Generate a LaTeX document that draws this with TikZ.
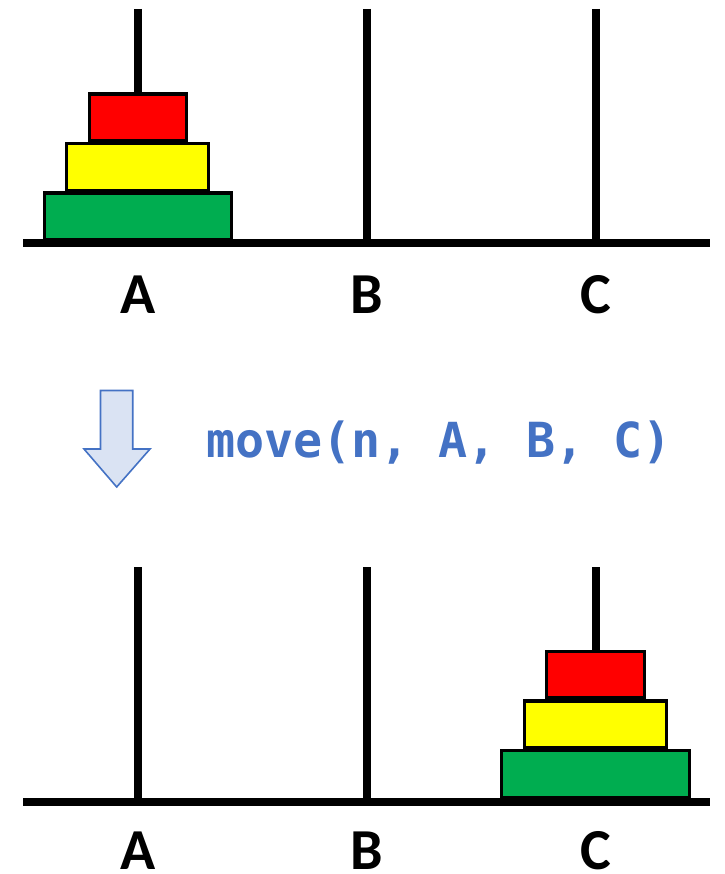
\documentclass[tikz,border=0pt]{standalone}
\usepackage{fontspec}
\newfontfamily\labelfont{Carlito}
\newfontfamily\codefont{DejaVu Sans Mono}
\definecolor{discred}{HTML}{FF0000}
\definecolor{discyellow}{HTML}{FFFF00}
\definecolor{discgreen}{HTML}{00AD50}
\definecolor{arrowfill}{HTML}{DAE3F3}
\definecolor{arrowline}{HTML}{4472C4}
\begin{document}
\begin{tikzpicture}[x=1pt,y=-1pt,
  pole/.style={line width=8pt,black},
  disc/.style={draw=black,line width=3.3pt,rectangle,inner sep=0pt,minimum height=46.5pt},
  peglabel/.style={font=\labelfont\bfseries\fontsize{58}{58}\selectfont,anchor=base,inner sep=0pt},
  blockarrow/.style={draw=arrowline,fill=arrowfill,line width=1.6pt,line join=miter},
  codetext/.style={font=\codefont\bfseries\fontsize{48.3}{48.3}\selectfont,text=arrowline,anchor=base west,inner sep=0pt}]
\useasboundingbox (0,0) rectangle (724,874);
% top row
\coordinate (tbl) at (23,243); \coordinate (tbr) at (710,243);
\coordinate (tAt) at (137.7,9); \coordinate (tAb) at (137.7,243);
\coordinate (tBt) at (366.7,9); \coordinate (tBb) at (366.7,243);
\coordinate (tCt) at (595.7,9); \coordinate (tCb) at (595.7,243);
\draw[pole] (tAt) -- (tAb);
\draw[pole] (tBt) -- (tBb);
\draw[pole] (tCt) -- (tCb);
\node[disc,fill=discred,minimum width=97pt] (tred) at (137.7,117.2) {};
\node[disc,fill=discyellow,minimum width=142pt] (tyellow) at (137.5,167) {};
\node[disc,fill=discgreen,minimum width=187pt] (tgreen) at (137.7,216.2) {};
\draw[pole] (tbl) -- (tbr);
\node[peglabel] (tA) at (137.7,313) {A};
\node[peglabel] (tB) at (366.7,313) {B};
\node[peglabel] (tC) at (595.7,313) {C};
% arrow
\coordinate (a1) at (100.5,390.5); \coordinate (a2) at (132.7,390.5);
\coordinate (a3) at (132.7,449); \coordinate (a4) at (150,449);
\coordinate (a5) at (116.7,487); \coordinate (a6) at (84,449);
\coordinate (a7) at (100.5,449);
\draw[blockarrow] (a1) -- (a2) -- (a3) -- (a4) -- (a5) -- (a6) -- (a7) -- cycle;
\node[codetext] (code) at (206,457) {move(n, A, B, C)};
% bottom row
\coordinate (bbl) at (23,801.5); \coordinate (bbr) at (710,801.5);
\coordinate (bAt) at (137.7,567); \coordinate (bAb) at (137.7,801.5);
\coordinate (bBt) at (366.7,567); \coordinate (bBb) at (366.7,801.5);
\coordinate (bCt) at (595.7,567); \coordinate (bCb) at (595.7,801.5);
\draw[pole] (bAt) -- (bAb);
\draw[pole] (bBt) -- (bBb);
\draw[pole] (bCt) -- (bCb);
\node[disc,fill=discred,minimum width=97.5pt] (bred) at (595.5,674.7) {};
\node[disc,fill=discyellow,minimum width=142pt] (byellow) at (595.3,724.2) {};
\node[disc,fill=discgreen,minimum width=188pt] (bgreen) at (595.8,774) {};
\draw[pole] (bbl) -- (bbr);
\node[peglabel] (bA) at (137.7,869) {A};
\node[peglabel] (bB) at (366.7,869) {B};
\node[peglabel] (bC) at (595.7,869) {C};
\end{tikzpicture}
\end{document}
